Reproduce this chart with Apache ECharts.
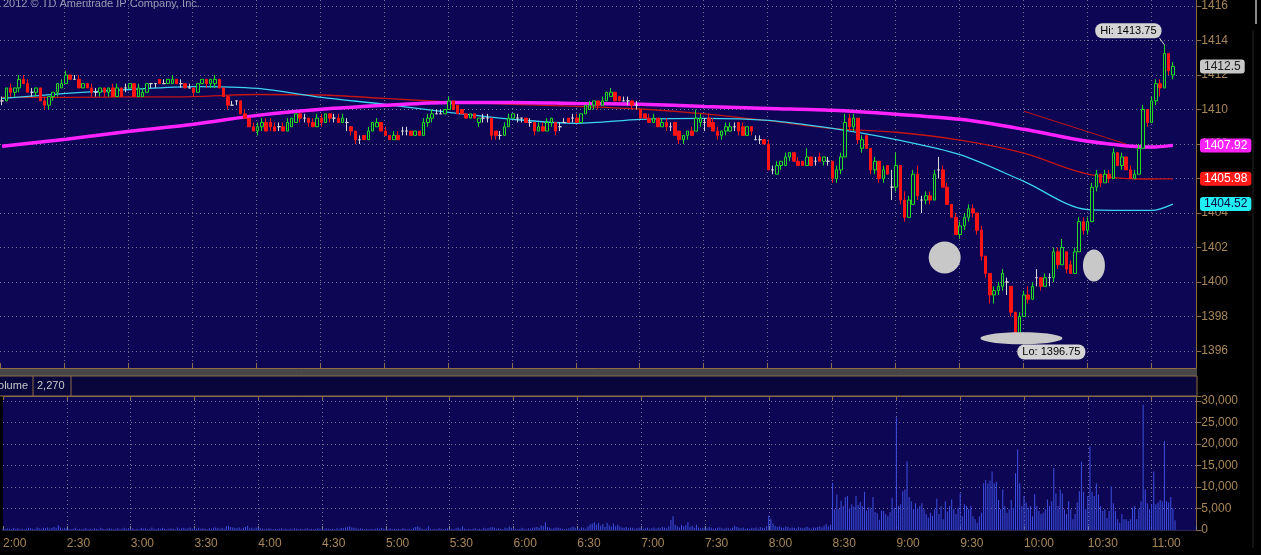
<!DOCTYPE html>
<html><head><meta charset="utf-8">
<script src="https://cdn.jsdelivr.net/npm/echarts@6/dist/echarts.min.js"></script>
<style>html,body{margin:0;padding:0;background:#000;}#c{width:1261px;height:555px;}</style>
</head><body><div id="c"></div>
<script>
// ---------- DATA ----------
const timeLabels = ['2:00','2:30','3:00','3:30','4:00','4:30','5:00','5:30','6:00','6:30','7:00','7:30','8:00','8:30','9:00','9:30','10:00','10:30','11:00'];
const priceTicks = [1396,1398,1400,1402,1404,1406,1408,1410,1412,1414,1416];
const volumeTicks = [0,5000,10000,15000,20000,25000,30000];

// 2-minute bars from 2:00, each [open, high, low, close]
const ohlc = [
// 2:00
[1410.5,1410.75,1410.25,1410.5],[1410.5,1411.25,1410.5,1411.25],[1411.25,1411.5,1410.75,1411.0],[1411.0,1411.25,1410.75,1411.25],[1411.25,1412.0,1411.0,1411.75],
[1411.75,1412.0,1411.5,1411.5],[1411.5,1411.75,1411.0,1411.0],[1411.0,1411.25,1410.75,1411.0],[1411.0,1411.25,1410.75,1411.25],[1411.25,1411.25,1410.5,1410.5],
[1410.5,1410.75,1410.0,1410.25],[1410.25,1410.75,1410.0,1410.75],[1410.75,1411.0,1410.5,1411.0],[1411.0,1411.5,1410.75,1411.5],[1411.25,1411.75,1411.25,1411.5],
// 2:30
[1411.5,1412.25,1411.5,1412.0],[1412.0,1412.0,1411.75,1411.75],[1411.75,1412.0,1411.75,1411.75],[1411.75,1412.0,1411.25,1411.25],[1411.25,1411.5,1411.25,1411.5],
[1411.5,1411.5,1411.25,1411.25],[1411.25,1411.5,1410.75,1411.0],[1411.0,1411.25,1410.75,1411.0],[1411.0,1411.25,1410.75,1411.25],[1411.25,1411.25,1410.75,1411.0],
[1411.0,1411.25,1410.75,1411.25],[1411.25,1411.5,1410.75,1410.75],[1410.75,1411.5,1410.75,1411.25],[1411.25,1411.25,1410.75,1410.75],[1411.25,1411.5,1411.0,1411.25],
// 3:00
[1411.25,1411.5,1411.25,1411.5],[1411.5,1411.5,1410.75,1410.75],[1410.75,1411.5,1410.75,1411.25],[1410.75,1411.25,1410.75,1411.0],[1411.0,1411.5,1411.0,1411.5],
[1411.5,1411.5,1411.25,1411.5],[1411.5,1411.5,1411.25,1411.5],[1411.75,1411.75,1411.5,1411.5],[1411.5,1411.75,1411.5,1411.5],[1411.5,1411.75,1411.5,1411.75],
[1411.5,1412.0,1411.5,1411.75],[1411.75,1411.75,1411.5,1411.5],[1411.5,1411.75,1411.25,1411.5],[1411.5,1411.5,1411.25,1411.25],[1411.25,1411.5,1411.25,1411.25],
// 3:30
[1411.25,1411.25,1410.75,1411.0],[1411.0,1411.5,1411.0,1411.5],[1411.5,1411.75,1411.5,1411.75],[1411.75,1411.75,1411.25,1411.5],[1411.5,1411.75,1411.25,1411.75],
[1411.5,1412.0,1411.25,1411.75],[1411.75,1411.75,1411.25,1411.25],[1411.25,1411.25,1410.75,1410.75],[1410.75,1410.75,1410.0,1410.25],[1410.25,1410.5,1410.25,1410.25],
[1410.5,1410.5,1410.25,1410.5],[1410.5,1410.5,1409.75,1409.75],[1409.75,1410.0,1409.5,1409.5],[1409.5,1409.5,1409.0,1409.0],[1409.0,1409.25,1408.75,1408.75],
// 4:00
[1408.75,1409.25,1408.5,1409.0],[1409.0,1409.5,1408.75,1409.25],[1409.25,1409.5,1408.75,1408.75],[1409.25,1409.5,1408.75,1409.0],[1409.0,1409.25,1408.75,1408.75],
[1409.0,1409.25,1408.75,1409.0],[1409.0,1409.25,1408.75,1408.75],[1408.75,1409.5,1408.75,1409.25],[1409.0,1409.5,1409.0,1409.5],[1409.25,1409.75,1409.25,1409.75],
[1409.75,1409.75,1409.25,1409.5],[1409.5,1409.75,1409.25,1409.5],[1409.5,1409.5,1409.0,1409.25],[1409.25,1409.5,1409.0,1409.0],[1409.0,1409.75,1409.0,1409.5],
// 4:30
[1409.5,1409.75,1409.0,1409.25],[1409.25,1409.75,1409.25,1409.75],[1409.75,1409.75,1409.25,1409.5],[1409.5,1409.75,1409.25,1409.5],[1409.5,1409.75,1409.25,1409.25],
[1409.25,1409.75,1409.25,1409.5],[1409.25,1409.5,1408.75,1409.25],[1409.0,1409.0,1408.5,1408.75],[1408.75,1408.75,1408.0,1408.25],[1408.25,1408.5,1408.0,1408.25],
[1408.5,1408.5,1408.25,1408.25],[1408.25,1409.0,1408.25,1408.75],[1408.75,1409.25,1408.75,1409.25],[1409.0,1409.5,1409.0,1409.25],[1409.25,1409.25,1408.75,1408.75],
// 5:00
[1408.75,1409.0,1408.5,1408.5],[1408.5,1408.5,1408.25,1408.25],[1408.25,1408.75,1408.25,1408.5],[1408.5,1408.75,1408.25,1408.25],[1408.75,1409.0,1408.5,1408.75],
[1408.75,1409.0,1408.5,1408.75],[1408.75,1408.75,1408.5,1408.5],[1408.5,1408.75,1408.5,1408.75],[1408.75,1408.75,1408.5,1408.5],[1408.5,1409.5,1408.5,1409.25],
[1409.25,1409.75,1409.0,1409.5],[1409.5,1410.0,1409.25,1409.75],[1409.75,1410.0,1409.75,1409.75],[1409.75,1410.0,1409.75,1409.75],[1409.75,1410.0,1409.75,1410.0],
// 5:30
[1410.0,1410.75,1410.0,1410.5],[1410.5,1410.5,1410.0,1410.0],[1410.25,1410.25,1409.75,1409.75],[1410.0,1410.0,1409.75,1409.75],[1409.75,1409.75,1409.5,1409.5],
[1409.5,1409.75,1409.5,1409.75],[1409.75,1409.75,1409.5,1409.5],[1409.25,1409.5,1409.0,1409.5],[1409.5,1409.75,1409.25,1409.5],[1409.5,1409.75,1409.25,1409.5],
[1409.5,1409.5,1408.25,1408.5],[1408.75,1408.75,1408.25,1408.5],[1408.5,1408.75,1408.25,1408.5],[1408.5,1409.25,1408.5,1409.0],[1409.0,1409.75,1409.0,1409.5],
// 6:00
[1409.5,1409.75,1409.5,1409.75],[1409.5,1409.75,1409.25,1409.5],[1409.5,1409.5,1409.25,1409.5],[1409.5,1409.5,1409.25,1409.25],[1409.25,1409.5,1409.0,1409.25],
[1409.25,1409.25,1408.5,1408.75],[1408.75,1409.25,1408.75,1409.0],[1409.0,1409.25,1408.75,1408.75],[1408.75,1409.5,1408.75,1409.25],[1409.25,1409.5,1409.0,1409.5],
[1409.25,1409.25,1408.5,1408.75],[1409.0,1409.25,1408.75,1409.0],[1409.25,1409.5,1409.25,1409.25],[1409.5,1409.5,1409.25,1409.25],[1409.5,1409.75,1409.25,1409.5],
// 6:30
[1409.5,1409.75,1409.25,1409.25],[1409.25,1409.75,1409.25,1409.75],[1409.75,1410.25,1409.75,1410.25],[1410.0,1410.5,1410.0,1410.25],[1410.25,1410.5,1410.0,1410.5],
[1410.5,1410.5,1410.0,1410.25],[1410.25,1410.75,1410.25,1410.5],[1410.5,1411.0,1410.5,1411.0],[1410.75,1411.25,1410.75,1411.0],[1411.0,1411.0,1410.5,1410.5],
[1410.75,1410.75,1410.5,1410.5],[1410.5,1410.75,1410.5,1410.5],[1410.5,1410.75,1410.25,1410.5],[1410.5,1410.5,1410.0,1410.25],[1410.25,1410.5,1410.0,1410.25],
// 7:00
[1410.0,1410.0,1409.5,1409.5],[1409.75,1409.75,1409.5,1409.5],[1409.5,1409.75,1409.25,1409.25],[1409.25,1409.75,1409.25,1409.5],[1409.5,1409.5,1409.0,1409.0],
[1409.0,1409.5,1409.0,1409.25],[1409.25,1409.5,1408.75,1409.0],[1409.0,1409.25,1408.75,1409.0],[1409.25,1409.25,1408.5,1408.5],[1408.75,1408.75,1408.0,1408.25],
[1408.25,1408.5,1408.0,1408.5],[1408.5,1408.75,1408.25,1408.75],[1408.75,1409.0,1408.5,1408.5],[1408.75,1410.0,1408.75,1409.5],[1409.25,1409.75,1409.0,1409.5],
// 7:30
[1409.25,1409.5,1408.75,1409.25],[1409.5,1409.75,1409.0,1409.0],[1409.25,1409.5,1408.75,1408.75],[1408.75,1409.0,1408.25,1408.5],[1408.5,1408.75,1408.25,1408.75],
[1408.75,1409.25,1408.5,1409.0],[1408.75,1409.25,1408.75,1409.0],[1409.0,1409.25,1408.75,1409.0],[1409.25,1409.25,1408.5,1408.75],[1409.0,1409.25,1408.5,1408.5],
[1408.5,1409.0,1408.5,1409.0],[1409.0,1409.0,1408.5,1408.75],[1408.25,1408.5,1408.25,1408.25],[1408.25,1408.5,1408.0,1408.25],[1408.25,1408.25,1408.0,1408.0],
// 8:00
[1408.0,1408.25,1406.5,1406.5],[1406.5,1406.75,1406.25,1406.5],[1406.25,1407.0,1406.25,1406.75],[1406.75,1407.0,1406.5,1407.0],[1406.75,1407.5,1406.75,1407.25],
[1407.25,1407.5,1407.0,1407.5],[1407.5,1407.5,1407.0,1407.0],[1407.0,1407.25,1406.75,1406.75],[1407.0,1407.0,1406.75,1406.75],[1406.75,1407.75,1406.75,1407.25],
[1407.25,1407.25,1406.75,1406.75],[1407.0,1407.25,1406.75,1407.0],[1407.25,1407.5,1407.0,1407.0],[1407.0,1407.25,1406.75,1407.25],[1407.0,1407.25,1406.75,1407.0],
// 8:30
[1407.0,1407.0,1405.75,1406.0],[1406.0,1406.75,1405.75,1406.5],[1406.5,1407.5,1406.25,1407.25],[1407.25,1409.75,1407.25,1409.25],[1409.5,1409.75,1408.75,1409.0],
[1409.0,1409.75,1408.75,1409.5],[1409.5,1409.5,1408.0,1408.25],[1407.75,1408.5,1407.5,1408.25],[1408.5,1408.5,1407.75,1407.75],[1407.75,1407.75,1406.25,1406.5],
[1406.5,1407.25,1406.25,1407.0],[1407.0,1407.0,1405.75,1406.0],[1406.0,1406.75,1405.75,1406.5],[1406.75,1406.75,1406.25,1406.25],[1405.5,1406.5,1404.75,1405.5],
// 9:00
[1405.5,1407.5,1405.25,1406.75],[1406.75,1406.75,1404.5,1404.75],[1404.75,1405.25,1403.5,1403.75],[1403.75,1405.0,1403.75,1404.75],[1404.5,1406.5,1404.5,1406.25],
[1406.25,1406.75,1404.75,1405.0],[1404.75,1405.0,1404.0,1404.75],[1404.75,1405.25,1404.5,1405.0],[1405.0,1405.25,1404.5,1404.75],[1404.75,1406.5,1404.75,1406.25],
[1406.5,1407.25,1406.0,1406.5],[1406.5,1406.75,1405.5,1405.5],[1405.5,1405.75,1404.5,1404.5],[1404.5,1404.5,1403.75,1403.75],[1403.75,1404.0,1402.75,1402.75],
// 9:30
[1402.75,1403.5,1402.5,1403.25],[1403.25,1404.0,1403.0,1403.75],[1403.75,1404.5,1403.5,1404.25],[1404.25,1404.5,1403.75,1404.0],[1404.0,1404.0,1402.75,1403.0],
[1403.0,1403.25,1401.25,1401.5],[1401.5,1401.5,1400.25,1400.5],[1400.5,1400.5,1398.75,1399.25],[1399.25,1399.75,1398.75,1399.5],[1399.5,1400.0,1399.25,1399.75],
[1399.75,1400.75,1399.5,1400.5],[1400.0,1400.25,1399.25,1400.0],[1399.75,1399.75,1398.0,1398.25],[1398.25,1398.25,1396.75,1397.0],[1397.0,1398.25,1396.75,1398.0],
// 10:00
[1398.0,1399.5,1398.0,1399.25],[1399.25,1399.75,1398.75,1399.0],[1399.0,1400.0,1399.0,1399.75],[1400.25,1400.75,1399.75,1400.25],[1400.25,1400.25,1399.5,1399.75],
[1399.75,1400.5,1399.75,1400.25],[1400.25,1400.5,1399.75,1400.25],[1400.25,1402.0,1400.0,1401.75],[1401.75,1402.0,1400.75,1401.0],[1401.0,1402.5,1401.0,1402.0],
[1401.75,1401.75,1400.5,1400.75],[1401.0,1401.25,1400.5,1400.5],[1400.5,1402.0,1400.5,1401.75],[1401.75,1403.75,1401.75,1403.5],[1403.5,1403.75,1402.75,1403.0],
// 10:30
[1403.0,1403.75,1402.75,1403.5],[1403.5,1405.75,1403.5,1405.5],[1405.5,1406.5,1405.25,1406.25],[1406.25,1406.25,1405.5,1405.75],[1405.75,1406.5,1405.75,1406.25],
[1406.25,1406.5,1405.75,1406.0],[1406.0,1407.75,1406.0,1407.5],[1407.5,1407.5,1406.75,1406.75],[1406.75,1407.5,1406.5,1407.25],[1407.25,1407.25,1406.5,1406.5],
[1406.5,1406.75,1406.0,1406.0],[1406.0,1406.5,1406.0,1406.25],[1406.25,1408.0,1406.25,1407.75],[1407.75,1410.25,1407.75,1410.0],[1410.0,1410.0,1409.0,1409.25],
// 11:00
[1409.25,1410.75,1409.25,1410.5],[1410.5,1411.75,1410.25,1411.5],[1411.5,1411.75,1410.75,1411.25],[1411.25,1413.75,1411.25,1413.25],[1413.25,1413.25,1412.0,1412.25],
[1412.0,1412.75,1411.75,1412.5]
];

// 1-minute volume from 2:00
const volume = [
300,200,400,300,200,500,300,400,200,300,200,300,500,400,300,200,600,400,300,500,400,600,300,500,700,400,1100,600,300,500,
400,300,200,300,500,200,300,200,300,400,200,300,200,400,300,200,500,300,200,300,400,300,200,300,400,200,300,500,300,400,
300,400,200,300,200,500,300,400,200,300,600,300,200,400,300,500,300,200,300,400,300,200,600,300,400,500,300,400,600,300,
400,300,500,300,400,300,200,400,300,500,600,400,300,500,300,900,1000,700,600,500,400,600,300,500,700,1000,400,500,300,600,
500,400,300,200,300,400,300,200,300,200,300,400,200,300,200,300,200,400,300,200,300,200,300,400,200,300,200,300,400,300,
300,200,400,300,200,300,200,400,300,500,400,600,700,900,600,500,400,300,400,300,200,300,200,300,200,300,400,300,500,300,
300,200,400,200,300,200,300,200,400,300,200,300,200,500,700,900,600,300,200,300,900,300,200,300,200,400,300,200,300,400,
200,300,200,400,500,300,900,300,200,300,200,300,400,200,300,200,500,300,400,600,700,500,300,400,300,200,600,400,800,500,
400,300,200,300,500,300,200,400,300,500,600,700,500,1100,900,1800,700,500,300,400,600,500,400,300,200,300,400,600,800,500,
400,300,600,500,300,800,1300,1500,1800,1200,1600,1000,1400,700,1700,1100,800,1500,900,1200,800,600,500,700,400,600,500,300,400,500,
600,300,400,500,300,400,600,300,500,400,700,600,400,800,2300,3200,1200,900,600,1200,800,1100,1800,700,1000,500,1200,600,400,500,
600,400,700,500,300,400,500,600,400,300,500,400,300,600,1000,700,500,400,600,300,400,300,500,400,600,300,700,500,400,900,
3400,2600,1500,1000,700,900,600,500,800,700,400,600,500,300,700,500,400,600,800,500,300,600,500,700,900,600,1000,1400,800,1200,
11000,4800,8200,4900,6800,5600,7600,7900,5000,6000,5400,7900,5800,6500,5500,8900,4500,5300,5000,7700,4200,3900,2400,4500,4400,3700,3200,4100,7500,5200,
26200,5600,6000,9000,9400,16000,7700,6700,4800,6200,5000,5600,6200,4800,3700,2900,4000,3300,4800,7300,3700,5600,2500,6700,4300,5600,7100,4800,3700,5200,
8500,3200,6000,5600,4800,5600,3200,2500,1700,3200,4000,10900,11600,10800,11500,13600,10900,11200,7000,4800,9400,5600,4000,4800,7000,5200,13200,18700,10900,5600,
7900,6400,5200,5600,3200,8300,5600,4400,3700,4000,4800,7100,5600,6700,14400,8500,5600,9400,8500,4800,3700,6700,4800,2500,3700,6400,9000,15900,8900,4800,
7900,19400,8900,7900,10900,8200,5600,4400,4800,2800,4400,10100,6200,4400,2500,1700,3700,2500,2500,2100,2500,5200,5600,2500,4800,6600,29100,9400,6200,4800,
6000,13600,6000,6400,7000,6700,20700,6700,6400,7700,5200,2270
];

// moving averages read at half-hour bar indexes
const maIndex   = [0,15,30,45,60,75,90,105,120,135,150,165,180,195,210,225,240,255,270,275];
const maMagenta = [1407.87,1408.28,1408.74,1409.14,1409.66,1410.01,1410.24,1410.41,1410.41,1410.35,1410.30,1410.18,1410.06,1409.95,1409.72,1409.43,1408.85,1408.16,1407.82,1407.92];
const maRed     = [1410.70,1410.70,1410.73,1410.75,1410.87,1410.84,1410.64,1410.44,1410.30,1410.18,1410.03,1409.75,1409.35,1408.90,1408.68,1408.22,1407.47,1406.26,1405.97,1405.98];
const maCyan    = [1410.64,1410.93,1411.16,1411.33,1411.22,1410.70,1410.30,1409.83,1409.43,1409.20,1409.43,1409.49,1409.37,1408.90,1408.25,1407.38,1405.83,1404.20,1404.15,1404.52];

const trendLine = [[240,1409.9],[264,1408.0]];
const hiPoint = [273,1413.75];
const loPoint = [238,1396.75];
// drawn annotation marks: [minutes after 2:00, price]
const marks = [[443,1401.42],[513,1400.96],[479,1396.74]];

// ---------- STYLE ----------
const NAVY = '#0c0654', TAN = '#8c6c44', LAB = '#a8865a', DOT = '#7a7292';
const FONT = '"Liberation Sans", Arial, sans-serif';
const GREEN = '#22dd22', RED = '#ff1414', DOJI = '#d8d8d8';
const NBARS = 281;  // category slots across the pane (2-min)
const TMAX = 561;   // minutes across the pane

const cats = Array.from({length: NBARS}, (_, i) => String(i));
const candleData = ohlc.map(([o,h,l,c]) => [o,c,l,h]);
const maPairs = arr => maIndex.map((k, j) => [k, arr[j]]);
const volData = volume.map((v, i) => [i, v]);
const dotted = {show: true, showMinLine: false, lineStyle: {color: DOT, type: [1,3], width: 1}};
const timeFmt = v => (v % 30 === 0 && timeLabels[v/30] !== undefined) ? timeLabels[v/30] : '';

const chart = echarts.init(document.getElementById('c'), null, {renderer: 'canvas'});
const option = {
  animation: false,
  backgroundColor: '#000',
  grid: [
    {left: -0.47, right: 64.7, top: 0, height: 368, show: true, backgroundColor: NAVY, borderWidth: 0},
    {left: -2.6, right: 64.7, top: 4, height: 347, show: false},
    {left: -0.47, right: 64.7, top: 396, height: 134, show: true, backgroundColor: NAVY, borderWidth: 0}
  ],
  xAxis: [
    {type: 'value', gridIndex: 0, min: 0, max: TMAX, interval: 30, position: 'bottom',
     axisLine: {show: true, onZero: false, lineStyle: {color: TAN}},
     axisTick: {show: true, inside: true, length: 5, lineStyle: {color: TAN}},
     axisLabel: {show: false}, splitLine: dotted},
    {type: 'category', gridIndex: 1, data: cats, boundaryGap: true, show: false},
    {type: 'value', gridIndex: 2, min: 0, max: TMAX, interval: 30, position: 'bottom',
     axisLine: {show: true, onZero: false, lineStyle: {color: '#2a2650'}},
     axisTick: {show: true, inside: true, length: 4, lineStyle: {color: '#808080'}},
     axisLabel: {color: LAB, fontSize: 12, fontFamily: FONT, margin: 8, align: 'left', formatter: timeFmt},
     splitLine: dotted},
    {type: 'value', gridIndex: 2, min: 0, max: TMAX, interval: 30, position: 'top',
     axisLine: {show: true, onZero: false, lineStyle: {color: TAN}},
     axisTick: {show: true, inside: true, length: 4, lineStyle: {color: TAN}},
     axisLabel: {show: false}, splitLine: {show: false}}
  ],
  yAxis: [
    {type: 'value', gridIndex: 0, position: 'right', min: 0, max: 1,
     axisLine: {show: true, onZero: false, lineStyle: {color: TAN}}, axisTick: {show: false},
     axisLabel: {show: false}, splitLine: {show: false}},
    {type: 'value', gridIndex: 1, position: 'right', min: priceTicks[0], max: priceTicks[priceTicks.length-1], interval: 2,
     axisLine: {show: false, onZero: false},
     axisTick: {show: true, length: 5, lineStyle: {color: TAN}},
     axisLabel: {color: LAB, fontSize: 12, fontFamily: FONT, margin: 5,
                 formatter: v => priceTicks.includes(v) ? String(v) : ''},
     splitLine: {show: true, lineStyle: {color: DOT, type: [1,3], width: 1}}},
    {type: 'value', gridIndex: 2, position: 'right', min: 0, max: 31163, interval: 5000,
     axisLine: {show: true, onZero: false, lineStyle: {color: TAN}},
     axisTick: {show: true, length: 5, lineStyle: {color: TAN}},
     axisLabel: {color: LAB, fontSize: 12, fontFamily: FONT, margin: 5,
                 formatter: v => volumeTicks.includes(v) ? v.toLocaleString('en-US') : ''},
     splitLine: {show: true, lineStyle: {color: DOT, type: [1,3], width: 1}}}
  ],
  series: [
    {type: 'line', xAxisIndex: 1, yAxisIndex: 1, data: maPairs(maRed), smooth: 0.3, showSymbol: false,
     lineStyle: {color: '#c41414', width: 1.3}, z: 3, silent: true},
    {type: 'line', xAxisIndex: 1, yAxisIndex: 1, data: maPairs(maCyan), smooth: 0.3, showSymbol: false,
     lineStyle: {color: '#3cd2f0', width: 1.3}, z: 3, silent: true},
    {type: 'line', xAxisIndex: 1, yAxisIndex: 1, data: maPairs(maMagenta), smooth: 0.3, showSymbol: false,
     lineStyle: {color: '#ff22ff', width: 3.5}, z: 3, silent: true},
    {type: 'candlestick', xAxisIndex: 1, yAxisIndex: 1, data: candleData, barWidth: 3, z: 4,
     itemStyle: {color: NAVY, color0: RED, borderColor: GREEN, borderColor0: RED, borderColorDoji: DOJI, borderWidth: 1},
     markLine: {silent: true, symbol: ['none','none'], label: {show: false},
       lineStyle: {color: '#c01414', width: 1, type: 'solid'},
       data: [[{coord: trendLine[0]}, {coord: trendLine[1]}]]},
     markPoint: {symbol: 'circle', symbolSize: 0, silent: true,
       label: {show: true, color: '#000', backgroundColor: '#d4d4d4', padding: [2,5,2,5], borderRadius: 7,
               fontSize: 11, fontFamily: FONT},
       data: [
         {coord: hiPoint, label: {offset: [-36,-14], formatter: 'Hi: ' + hiPoint[1].toFixed(2)}},
         {coord: loPoint, label: {offset: [36,14], formatter: 'Lo: ' + loPoint[1].toFixed(2)}}
       ]}},
    {type: 'bar', xAxisIndex: 2, yAxisIndex: 2, data: volData, barWidth: 1,
     itemStyle: {color: '#3d50e2'}, silent: true}
  ],
  graphic: [
    {type: 'rect', shape: {x: 0, y: 369, width: 1197, height: 7}, style: {fill: '#474747'}, silent: true},
    {type: 'rect', shape: {x: -1, y: 376, width: 1198, height: 20}, style: {fill: '#09063c', stroke: TAN, lineWidth: 1}, silent: true},
    {type: 'line', shape: {x1: 33, y1: 376, x2: 33, y2: 396}, style: {stroke: TAN, lineWidth: 1}},
    {type: 'line', shape: {x1: 71, y1: 376, x2: 71, y2: 396}, style: {stroke: TAN, lineWidth: 1}},
    {type: 'text', x: 28, y: 386, style: {text: 'Volume', align: 'right', verticalAlign: 'middle', fill: '#c8c8c8', font: '11px ' + FONT}},
    {type: 'text', x: 37, y: 386, style: {text: volume[volume.length-1].toLocaleString('en-US'), verticalAlign: 'middle', fill: '#c8c8c8', font: '11px ' + FONT}},
    {type: 'text', x: 3, y: -2, style: {text: '2012 \u00A9 TD Ameritrade IP Company, Inc.', fill: '#9a9ab6', font: '11px ' + FONT}},
    {type: 'line', shape: {x1: 1256, y1: 0, x2: 1256, y2: 24}, style: {stroke: '#8a8a8a', lineWidth: 2}},
    {type: 'line', shape: {x1: 1253, y1: 30, x2: 1253, y2: 548}, style: {stroke: '#262626', lineWidth: 1}}
  ]
};
chart.setOption(option);

// overlays positioned through the chart's own scales
const yP = v => chart.convertToPixel({yAxisIndex: 1}, v);
const xT = t => chart.convertToPixel({xAxisIndex: 0}, t);
const boxes = [
  {v: ohlc[ohlc.length-1][3], txt: ohlc[ohlc.length-1][3].toFixed(1), bg: '#c8c8c8', fg: '#202020'},
  {v: maMagenta[maMagenta.length-1], txt: maMagenta[maMagenta.length-1].toFixed(2), bg: '#ff22ff', fg: '#ffffff'},
  {v: maRed[maRed.length-1], txt: maRed[maRed.length-1].toFixed(2), bg: '#ff1a1a', fg: '#ffffff'},
  {v: maCyan[maCyan.length-1], txt: maCyan[maCyan.length-1].toFixed(2), bg: '#22eef2', fg: '#0a0a40'}
];
const markSizes = [[16,16],[11,16],[41,6]];
const hiPx = chart.convertToPixel({xAxisIndex: 1, yAxisIndex: 1}, hiPoint);
const extra = option.graphic.slice();
marks.forEach((m, k) => {
  extra.push({type: 'ellipse', z: 50, shape: {cx: xT(m[0]), cy: yP(m[1]), rx: markSizes[k][0], ry: markSizes[k][1]},
              style: {fill: '#c8c8c8'}});
});
extra.push({type: 'line', z: 50, shape: {x1: hiPx[0]-5, y1: hiPx[1]-7, x2: hiPx[0], y2: hiPx[1]}, style: {stroke: '#d4d4d4', lineWidth: 1}});
boxes.forEach(b => {
  extra.push({type: 'text', z: 60, x: 1200, y: yP(b.v),
    style: {text: b.txt, fill: b.fg, backgroundColor: b.bg, padding: [1,4,1,4], borderRadius: 3,
            verticalAlign: 'middle', align: 'left', font: '12px ' + FONT}});
});
chart.setOption({graphic: extra});
</script>
</body></html>
